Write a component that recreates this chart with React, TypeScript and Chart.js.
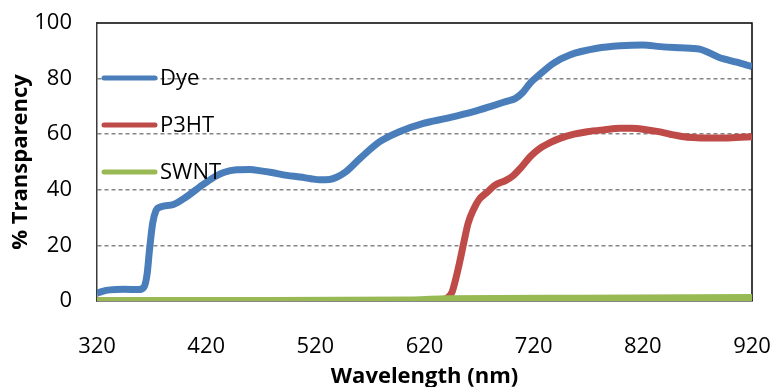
import React, { useEffect, useRef } from "react";
import { Chart, registerables } from "chart.js";

Chart.register(...registerables);

// ---- Data ----
const xTickValues = [320, 420, 520, 620, 720, 820, 920];
const yTickValues = [0, 20, 40, 60, 80, 100];

const seriesNames = ["Dye", "P3HT", "SWNT"];

const dyeWavelengths = [
  320, 325, 332, 345, 358, 363, 366, 368, 371, 374, 378, 390, 402, 414, 425,
  436, 448, 460, 470, 480, 494, 506, 516, 524, 533, 540, 547, 561, 579, 597,
  619, 640, 665, 683, 695, 703, 710, 717, 723, 738, 753, 778, 799, 820, 836,
  854, 872, 890, 906, 920,
];
const dyeValues = [
  2.8, 3.5, 4.0, 4.2, 4.1, 5, 10, 18, 28, 32.5, 33.8, 34.7, 37.5, 41, 44,
  46.2, 47.2, 47.3, 46.8, 46.2, 45.2, 44.6, 44, 43.6, 43.7, 44.6, 46.2, 51.3,
  57.3, 60.9, 63.9, 65.7, 68.1, 70.3, 71.8, 72.8, 75, 78.5, 80.6, 85.5, 88.5,
  90.9, 91.8, 92.1, 91.5, 91.1, 90.6, 87.6, 85.9, 84.3,
];

const p3htWavelengths = [
  320, 430, 450, 600, 625, 635, 640, 645, 648, 652, 656, 660, 665, 670, 677,
  684, 695, 701, 708, 717, 726, 735, 744, 757, 769, 785, 799, 810, 820, 833,
  845, 856, 866, 880, 891, 905, 920,
];
const p3htValues = [
  0, 0, -0.5, -0.5, 0, 0.3, 0.9, 3, 7, 13.6, 21, 28, 33, 36.5, 39, 41.5, 43.5,
  45, 47.8, 52, 55, 57, 58.5, 60, 60.9, 61.6, 62.1, 62.1, 61.8, 61, 60, 59.2,
  58.8, 58.6, 58.6, 58.8, 59.1,
];

const swntWavelengths = [320, 450, 610, 640, 760, 920];
const swntValues = [0.1, 0.2, 0.4, 0.8, 1.0, 1.3];

const seriesColors = ["#4a7ebb", "#be4b48", "#98b954"];

const FONT = "'Open Sans', 'DejaVu Sans', sans-serif";

function toPoints(xs: number[], ys: number[]) {
  return xs.map((x, i) => ({ x, y: ys[i] }));
}

const framePlugin = {
  id: "frameAndLegend",
  beforeDatasetsDraw(chart: any) {
    const { ctx, chartArea } = chart;
    const { left, right, top, bottom } = chartArea;
    ctx.save();
    ctx.strokeStyle = "#000";
    ctx.lineWidth = 1.5;
    ctx.setLineDash([]);
    ctx.beginPath();
    ctx.moveTo(left, top);
    ctx.lineTo(right, top);
    ctx.lineTo(right, bottom);
    ctx.stroke();
    ctx.restore();
  },
  afterDatasetsDraw(chart: any) {
    const { ctx, chartArea } = chart;
    const { left, top } = chartArea;
    const offsets = [55, 102, 149];
    ctx.save();
    ctx.setLineDash([]);
    chart.data.datasets.forEach((ds: any, i: number) => {
      const y = top + offsets[i];
      ctx.strokeStyle = ds.borderColor;
      ctx.lineWidth = 5;
      ctx.lineCap = "round";
      ctx.beginPath();
      ctx.moveTo(left + 7, y);
      ctx.lineTo(left + 58, y);
      ctx.stroke();
      ctx.fillStyle = "#000";
      ctx.font = `22px ${FONT}`;
      ctx.textAlign = "left";
      ctx.textBaseline = "middle";
      ctx.fillText(ds.label, left + 63, y + 1);
    });
    ctx.restore();
  },
};

export default function App() {
  const canvasRef = useRef<HTMLCanvasElement | null>(null);

  useEffect(() => {
    document.body.style.margin = "0";
    const canvas = canvasRef.current;
    if (!canvas) return;
    const chart = new Chart(canvas, {
      type: "line",
      data: {
        datasets: [
          {
            label: seriesNames[0],
            data: toPoints(dyeWavelengths, dyeValues),
            borderColor: seriesColors[0],
            backgroundColor: seriesColors[0],
            borderWidth: 7,
            pointRadius: 0,
            cubicInterpolationMode: "monotone",
            order: 2,
          },
          {
            label: seriesNames[1],
            data: toPoints(p3htWavelengths, p3htValues),
            borderColor: seriesColors[1],
            backgroundColor: seriesColors[1],
            borderWidth: 7,
            pointRadius: 0,
            cubicInterpolationMode: "monotone",
            order: 1,
          },
          {
            label: seriesNames[2],
            data: toPoints(swntWavelengths, swntValues),
            borderColor: seriesColors[2],
            backgroundColor: seriesColors[2],
            borderWidth: 7,
            pointRadius: 0,
            cubicInterpolationMode: "monotone",
            order: 0,
          },
        ],
      },
      options: {
        animation: false,
        responsive: false,
        devicePixelRatio: 1,
        layout: { padding: { left: 0, right: 24, top: 23, bottom: 0 } },
        plugins: {
          legend: { display: false },
          tooltip: { enabled: false },
        },
        scales: {
          x: {
            type: "linear",
            min: xTickValues[0],
            max: xTickValues[xTickValues.length - 1],
            afterBuildTicks: (scale: any) => {
              scale.ticks = xTickValues.map((v) => ({ value: v }));
            },
            afterFit: (scale: any) => {
              scale.height = 86;
              scale.paddingLeft = 0;
              scale.paddingRight = 0;
              scale.paddingTop = 0;
              scale.paddingBottom = 0;
            },
            ticks: {
              color: "#000",
              font: { family: FONT, size: 22 },
              padding: 33,
              maxRotation: 0,
            },
            grid: { display: false, drawTicks: false },
            border: { display: true, color: "#868686", width: 2 },
            title: {
              display: true,
              text: "Wavelength (nm)",
              color: "#000",
              font: { family: FONT, size: 22, weight: "bold" },
              padding: { top: 0, bottom: -3 },
            },
          },
          y: {
            type: "linear",
            min: yTickValues[0],
            max: yTickValues[yTickValues.length - 1],
            afterBuildTicks: (scale: any) => {
              scale.ticks = yTickValues.map((v) => ({ value: v }));
            },
            afterFit: (scale: any) => {
              scale.width = 97;
              scale.paddingLeft = 0;
              scale.paddingRight = 0;
              scale.paddingTop = 0;
              scale.paddingBottom = 0;
            },
            ticks: {
              color: "#000",
              font: { family: FONT, size: 22 },
              padding: 25,
            },
            grid: {
              drawTicks: false,
              color: (c: any) =>
                c.tick && (c.tick.value === 0 || c.tick.value === 100)
                  ? "rgba(0,0,0,0)"
                  : "#858585",
              lineWidth: 1.5,
            },
            border: { display: true, color: "#3a3a3a", width: 1.5, dash: [4, 3] },
            title: {
              display: true,
              text: "% Transparency",
              color: "#000",
              font: { family: FONT, size: 22, weight: "bold" },
              padding: { top: 8, bottom: 0 },
            },
          },
        },
      },
      plugins: [framePlugin],
    } as any);
    return () => chart.destroy();
  }, []);

  return (
    <div style={{ width: 776, height: 387 }}>
      <canvas ref={canvasRef} width={776} height={387} />
    </div>
  );
}
